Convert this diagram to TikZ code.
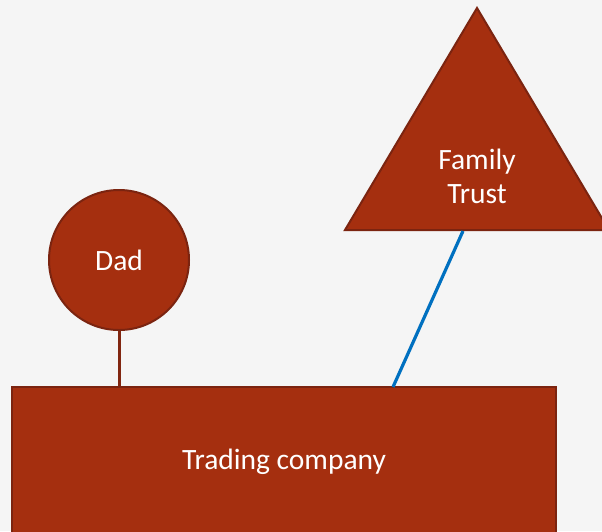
\documentclass[tikz,border=0pt]{standalone}
\usepackage{fontspec}
\setmainfont{Carlito}
\definecolor{bgc}{HTML}{F5F5F5}
\definecolor{shapefill}{HTML}{A52F0F}
\definecolor{shapeedge}{HTML}{7B2410}
\definecolor{linkblue}{HTML}{0070C0}
\tikzset{
  shapestyle/.style={fill=shapefill, draw=shapeedge, line width=2pt},
  labeltext/.style={text=white, font=\fontsize{29.5}{34}\selectfont, align=center},
  brownlink/.style={draw=shapeedge!85!shapefill, line width=3pt},
  bluelink/.style={draw=linkblue, line width=3.2pt}
}
\begin{document}
\begin{tikzpicture}[x=1pt,y=-1pt]
\useasboundingbox (0,0) rectangle (602,531);
\fill[bgc] (0,0) rectangle (602,531);
\clip (0,0) rectangle (602,531);
% Trading company
\node[shapestyle, rectangle, minimum width=544pt, minimum height=150pt, inner sep=0pt, labeltext] (company) at (284,462) {Trading company};
% Dad
\node[shapestyle, circle, minimum size=140pt, inner sep=0pt, labeltext] (dad) at (119,260) {Dad};
% Family Trust triangle
\coordinate (apex) at (477,8);
\coordinate (bl) at (345,230);
\coordinate (br) at (609,230);
\draw[shapestyle, line join=miter] (apex) -- (br) -- (bl) -- cycle;
\node[labeltext] (trust) at (477,176) {Family\\Trust};
\coordinate (trustfoot) at (463,231);
\coordinate (companyhook) at (393,387);
% connectors
\draw[brownlink] (dad.south) -- (dad.south |- company.north);
\draw[bluelink] (trustfoot) -- (companyhook);
\end{tikzpicture}
\end{document}
